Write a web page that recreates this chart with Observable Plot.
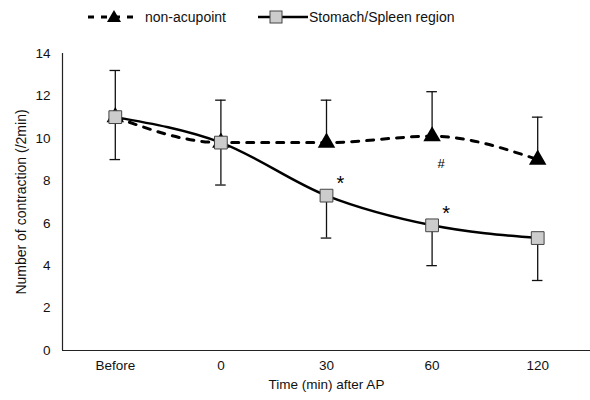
<!DOCTYPE html>
<html>
<head>
<meta charset="utf-8">
<script src="https://cdn.jsdelivr.net/npm/d3@7"></script>
<script src="https://cdn.jsdelivr.net/npm/@observablehq/plot@0.6"></script>
<style>
  body { margin: 0; background: #fff; font-family: "Liberation Sans", Arial, sans-serif; }
  #legend { height: 36px; position: relative; font-size: 14px; color: #111; }
  #legend .item { position: absolute; top: 8px; display: flex; align-items: center; }
  #legend svg { display: block; }
</style>
</head>
<body>
<div id="legend"></div>
<div id="chart"></div>
<script>
// Categories (x tick labels)
const categories = ["Before", "0", "30", "60", "120"];
// Series means
const nonAcupoint = [11.0, 9.8, 9.8, 10.1, 9.0];
const stomachSpleen = [11.0, 9.8, 7.3, 5.9, 5.3];
// Error (SD) values
const nonAcupointErr = [2.2, 2.0, 2.0, 2.1, 2.0];
const stomachSpleenErr = [2.0, 2.0, 2.0, 1.9, 2.0];
// Significance marks
const marks = [
  {cat: 2, value: 7.3, label: "*"},
  {cat: 3, value: 5.9, label: "*"}
];
const hashMarks = [{cat: 3, value: 10.1, label: "#"}];
const yTicks = [0, 2, 4, 6, 8, 10, 12, 14];

const na = categories.map((c, i) => ({i, v: nonAcupoint[i], e: nonAcupointErr[i]}));
const ss = categories.map((c, i) => ({i, v: stomachSpleen[i], e: stomachSpleenErr[i]}));

// Legend
const legend = document.getElementById("legend");
legend.innerHTML = `
  <div class="item" style="left:86px">
    <svg width="56" height="18"><line x1="2" y1="9" x2="54" y2="9" stroke="#000" stroke-width="3" stroke-dasharray="6,7"/>
    <path d="M28,2 L35,14 L21,14 Z" fill="#000"/></svg>
    <span style="margin-left:3px">non-acupoint</span>
  </div>
  <div class="item" style="left:257px">
    <svg width="52" height="18"><line x1="1" y1="9" x2="51" y2="9" stroke="#000" stroke-width="2.5"/>
    <rect x="13" y="3" width="12" height="12" fill="#ccc" stroke="#444" stroke-width="1"/></svg>
    <span style="margin-left:0px">Stomach/Spleen region</span>
  </div>`;

const chart = Plot.plot({
  width: 590,
  height: 364,
  marginTop: 17,
  marginBottom: 50,
  marginLeft: 62,
  marginRight: 0,
  style: {fontFamily: "Liberation Sans, Arial, sans-serif", fontSize: "13.5px", color: "#111", background: "#fff"},
  x: {domain: [-0.5, 4.5], ticks: categories.map((c, i) => i), tickFormat: i => categories[i], tickSize: 0, tickPadding: 10, label: null},
  y: {domain: [0, 14], ticks: yTicks, tickSize: 0, tickPadding: 12, label: null},
  marks: [
    Plot.ruleY([0], {stroke: "#222", strokeWidth: 1.2}),
    Plot.ruleX([-0.5], {stroke: "#222", strokeWidth: 1.2}),
    // error bars: stomach lower, non-acupoint upper
    Plot.ruleX(ss, {x: "i", y1: "v", y2: d => d.v - d.e, stroke: "#111", strokeWidth: 1.3}),
    Plot.ruleY(ss, {y: d => d.v - d.e, x1: d => d.i - 0.05, x2: d => d.i + 0.05, stroke: "#111", strokeWidth: 1.3}),
    Plot.ruleX(na, {x: "i", y1: "v", y2: d => d.v + d.e, stroke: "#111", strokeWidth: 1.3}),
    Plot.ruleY(na, {y: d => d.v + d.e, x1: d => d.i - 0.05, x2: d => d.i + 0.05, stroke: "#111", strokeWidth: 1.3}),
    Plot.line(na, {x: "i", y: "v", stroke: "#000", strokeWidth: 3, strokeDasharray: "7,8", curve: "monotone-x"}),
    Plot.line(ss, {x: "i", y: "v", stroke: "#000", strokeWidth: 2.5, curve: "monotone-x"}),
    Plot.dot(na, {x: "i", y: "v", symbol: "triangle", r: 6.5, fill: "#000", stroke: "none"}),
    Plot.dot(ss, {x: "i", y: "v", symbol: "square", r: 7.2, fill: "#ccc", stroke: "#444", strokeWidth: 1}),
    Plot.text(marks, {x: "cat", y: "value", text: "label", dx: 14, dy: -12, fontSize: 20, fill: "#000"}),
    Plot.text(hashMarks, {x: "cat", y: "value", text: "label", dx: 9, dy: 28, fontSize: 13, fill: "#000"}),
    Plot.text(["Time (min) after AP"], {frameAnchor: "bottom", dy: 38, fontSize: 13.5, fill: "#111", letterSpacing: "0.6px"}),
    Plot.text(["Number of contraction (/2min)"], {frameAnchor: "left", textAnchor: "middle", dx: -41, rotate: -90, fontSize: 14, fill: "#111"})
  ]
});
document.getElementById("chart").appendChild(chart);
</script>
</body>
</html>
